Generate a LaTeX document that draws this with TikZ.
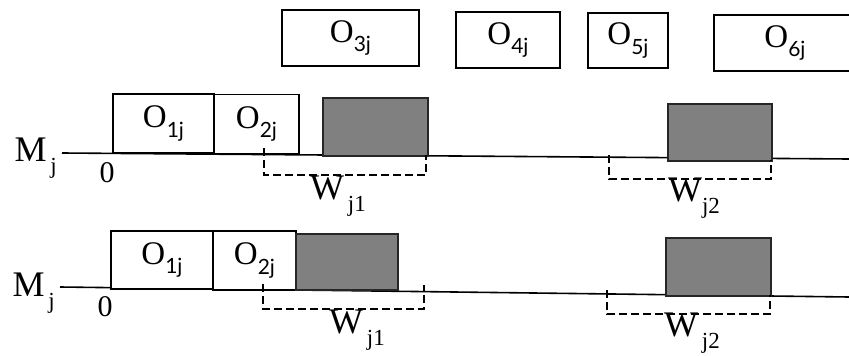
\documentclass[tikz,border=0pt]{standalone}
\usepackage{fontspec}
\setmainfont{Liberation Serif}
\newfontfamily\subfont{Lato}
\newcommand{\osub}[1]{\raisebox{-0.3em}{\fontsize{21}{21}\selectfont\subfont #1}}
\newcommand{\wsub}[1]{\raisebox{-0.32em}{\fontsize{23}{23}\selectfont #1}}
\begin{document}
\begin{tikzpicture}[x=1pt,y=-1pt,
  obox/.style={draw=black,line width=1.5pt,fill=white,inner sep=0pt,
    font=\fontsize{33}{35}\selectfont},
  gbox/.style={draw=black!85,line width=2.2pt,fill=black!50,inner sep=0pt},
  axis/.style={line width=1.6pt},
  brk/.style={dashed,dash pattern=on 8pt off 4pt,line width=1.5pt},
  lbl/.style={inner sep=0pt,font=\fontsize{36}{38}\selectfont}]
\useasboundingbox (0,0) rectangle (849,356);
% top row of operations
\node[obox,minimum width=137pt,minimum height=56pt] (o3) at (350.5,38) {O\osub{3j}};
\node[obox,minimum width=104pt,minimum height=56pt] (o4) at (508,40) {O\osub{4j}};
\node[obox,minimum width=80pt,minimum height=55pt] (o5) at (628,40.5) {O\osub{5j}};
\node[obox,minimum width=142pt,minimum height=56pt] (o6) at (785,43) {O\osub{6j}};
% ---------- row 1 ----------
\coordinate (a1s) at (62,153);
\coordinate (a1e) at (849,159);
\draw[axis] (a1s) -- (a1e);
\node[obox,minimum width=101pt,minimum height=59pt] (r1o1) at (163.5,123.5) {O\osub{1j}};
\node[obox,minimum width=85pt,minimum height=59pt] (r1o2) at (256.5,124) {O\osub{2j}};
\node[gbox,minimum width=105pt,minimum height=58pt] (r1g1) at (375.5,127) {};
\node[gbox,minimum width=104pt,minimum height=57pt] (r1g2) at (720,132.5) {};
\node[lbl,anchor=east] (m1) at (57,158) {M\wsub{\,j}};
\node[lbl,font=\fontsize{30}{32}\selectfont] (z1) at (107,173) {0};
\coordinate (b1a) at (264,148);
\coordinate (b1b) at (264,175);
\coordinate (b1c) at (426,175);
\coordinate (b1d) at (426,155);
\draw[brk] (b1a) -- (b1b) -- (b1c) -- (b1d);
\node[lbl] (w11) at (338,196) {W\wsub{\,j1}};
\coordinate (b2a) at (609,155);
\coordinate (b2b) at (609,179);
\coordinate (b2c) at (771,179);
\coordinate (b2d) at (771,160);
\draw[brk] (b2a) -- (b2b) -- (b2c) -- (b2d);
\node[lbl] (w12) at (694,198) {W\wsub{j2}};
% ---------- row 2 ----------
\coordinate (a2s) at (60,287);
\coordinate (a2e) at (849,297);
\draw[axis] (a2s) -- (a2e);
\node[obox,minimum width=102pt,minimum height=58pt] (r2o1) at (162,260) {O\osub{1j}};
\node[obox,minimum width=83pt,minimum height=59pt] (r2o2) at (254.5,260.5) {O\osub{2j}};
\node[gbox,minimum width=102pt,minimum height=56pt] (r2g1) at (347,262) {};
\node[gbox,minimum width=105pt,minimum height=58pt] (r2g2) at (718.5,267) {};
\node[lbl,anchor=east] (m2) at (55,293) {M\wsub{\,j}};
\node[lbl,font=\fontsize{30}{32}\selectfont] (z2) at (105,307) {0};
\coordinate (b3a) at (263,284);
\coordinate (b3b) at (263,309);
\coordinate (b3c) at (424,309);
\coordinate (b3d) at (424,285);
\draw[brk] (b3a) -- (b3b) -- (b3c) -- (b3d);
\node[lbl] (w21) at (357,330) {W\wsub{\,j1}};
\coordinate (b4a) at (607,290);
\coordinate (b4b) at (607,314);
\coordinate (b4c) at (770,314);
\coordinate (b4d) at (770,295);
\draw[brk] (b4a) -- (b4b) -- (b4c) -- (b4d);
\node[lbl] (w22) at (692,333) {W\wsub{\,j2}};
\end{tikzpicture}
\end{document}
